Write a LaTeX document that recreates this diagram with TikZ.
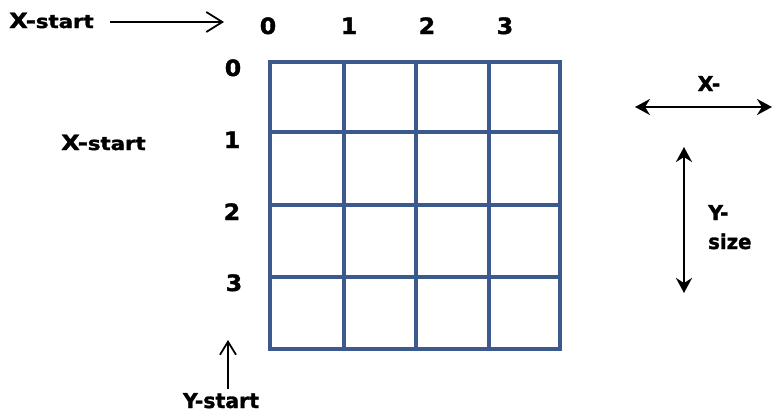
\documentclass[tikz,border=0pt]{standalone}
\usepackage{fontspec}
\usepackage{graphicx}
\setmainfont{DejaVu Sans}[BoldFeatures={FakeBold=1.5}]
\usetikzlibrary{arrows.meta}
\definecolor{gridblue}{RGB}{59,89,140}
% bold sans text, horizontally widened
\newcommand{\wide}[2]{\scalebox{#1}[1]{\bfseries #2}}
\begin{document}
\begin{tikzpicture}[x=1pt,y=-1pt,
  lbl/.style={font=\fontsize{22.5}{24}\selectfont, inner sep=0pt, anchor=base},
  txt/.style={font=\fontsize{20.5}{22}\selectfont, inner sep=0pt},
  gridline/.style={draw=gridblue, line width=4pt},
  chev/.style={line width=1.8pt, -{Straight Barb[length=16pt,width=20pt,line width=1.8pt]}},
  dbl/.style={line width=2.4pt, {Stealth[length=15pt,width=16pt,inset=5pt]}-{Stealth[length=15pt,width=16pt,inset=5pt]}},
  up/.style={line width=1.8pt, -{Straight Barb[length=13pt,width=16pt,line width=1.8pt]}}]
\useasboundingbox (0,0) rectangle (772,413);
% the 4x4 grid
\foreach \x in {270,344,416,489,560} \draw[gridline] (\x,62) -- (\x,349);
\foreach \y in {62,132,205,277,349} \draw[gridline] (268,\y) -- (562,\y);
% column indices
\node[lbl] (c0) at (268,34) {\wide{1.05}{0}};
\node[lbl] (c1) at (349,34) {\wide{1.05}{1}};
\node[lbl] (c2) at (427,34) {\wide{1.05}{2}};
\node[lbl] (c3) at (505,34) {\wide{1.05}{3}};
% row indices
\node[lbl] (r0) at (233,76) {\wide{1.05}{0}};
\node[lbl] (r1) at (232,148) {\wide{1.05}{1}};
\node[lbl] (r2) at (232,220) {\wide{1.05}{2}};
\node[lbl] (r3) at (234,291) {\wide{1.05}{3}};
% start labels
\node[anchor=base west, inner sep=0pt] (xs1) at (9,28)
  {\scalebox{1.15}[1]{\bfseries\fontsize{21}{23}\selectfont X-\fontsize{18.5}{20}\selectfont start}};
\coordinate (xs1end) at (224,22);
\draw[chev] (110,22) -- (xs1end);
\node[anchor=base west, inner sep=0pt] (xs2) at (61,150)
  {\scalebox{1.15}[1]{\bfseries\fontsize{21}{23}\selectfont X-\fontsize{18.5}{20}\selectfont start}};
\node[txt, anchor=base] (ys) at (221,408) {\wide{1.0}{Y-start}};
\coordinate (ystop) at (228,340);
\draw[up] (228,389) -- (ystop);
% size markers
\node[txt, anchor=base] (xsz) at (709,91) {\bfseries X-};
\coordinate (xl) at (635,107);
\coordinate (xr) at (772,107);
\draw[dbl] (xl) -- (xr);
\coordinate (yt) at (684,147);
\coordinate (yb) at (684,293);
\draw[dbl] (yt) -- (yb);
\node[txt, anchor=base west] (ysz1) at (708,220) {\bfseries Y-};
\node[txt, anchor=base west] (ysz2) at (708,249) {\scalebox{0.96}[1]{\bfseries size}};
\end{tikzpicture}
\end{document}
